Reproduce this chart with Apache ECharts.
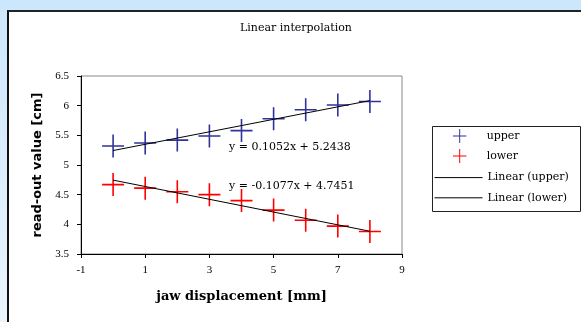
<!DOCTYPE html>
<html>
<head>
<meta charset="utf-8">
<script src="https://cdn.jsdelivr.net/npm/echarts@6/dist/echarts.min.js"></script>
<style>
  html, body { margin: 0; padding: 0; }
  body {
    width: 581px; height: 322px; overflow: hidden; position: relative;
    background: linear-gradient(#cce7fc, #eaf4fd);
  }
  .panel {
    position: absolute; left: 7px; top: 10px; width: 600px; height: 340px;
    background: #fff; border-left: 2px solid #111; border-top: 2px solid #222;
  }
  #chart { position: absolute; left: 0; top: 0; width: 581px; height: 322px; }
</style>
</head>
<body>
<div class="panel"></div>
<div id="chart"></div>
<script>
const xValues = [0, 1, 2, 3, 4, 5, 6, 7, 8];
const upperValues = [5.32, 5.37, 5.42, 5.49, 5.58, 5.78, 5.93, 6.01, 6.07];
const lowerValues = [4.67, 4.61, 4.55, 4.50, 4.40, 4.24, 4.07, 3.97, 3.88];
// trend line end points (x = 0 and x = 8)
const upperTrend = [[0, 5.2438], [8, 6.0854]];
const lowerTrend = [[0, 4.7451], [8, 3.8835]];
const upperLabel = "y = 0.1052x + 5.2438";
const lowerLabel = "y = -0.1077x + 4.7451";

const serif = "Liberation Serif";
const wide = "DejaVu Serif";
const cross = "path://M0,10.7 L22,10.7 L22,12.3 L0,12.3 Z M10.2,0 L11.8,0 L11.8,23 L10.2,23 Z";

const chart = echarts.init(document.getElementById("chart"));
chart.setOption({
  animation: false,
  textStyle: { fontFamily: serif },
  grid: {
    left: 81, top: 76, right: 179, bottom: 68,
    show: true, borderColor: "#8a8a8a", borderWidth: 1
  },
  xAxis: {
    type: "value", min: -1, max: 9, interval: 2,
    name: "jaw displacement [mm]",
    nameLocation: "middle", nameGap: 36,
    nameTextStyle: { fontFamily: wide, fontWeight: "bold", fontSize: 13, color: "#000" },
    axisLine: { onZero: false, lineStyle: { color: "#000" } },
    axisTick: { lineStyle: { color: "#000" }, length: 4 },
    axisLabel: { color: "#000", fontSize: 11, fontFamily: serif, margin: 11 },
    splitLine: { show: false }
  },
  yAxis: {
    type: "value", min: 3.5, max: 6.5, interval: 0.5,
    name: "read-out value [cm]",
    nameLocation: "middle", nameGap: 36,
    nameTextStyle: { fontFamily: "DejaVu Sans", fontWeight: "bold", fontSize: 13, color: "#000" },
    axisLine: { show: true, onZero: false, lineStyle: { color: "#000" } },
    axisTick: { show: true, lineStyle: { color: "#000" }, length: 4 },
    axisLabel: { color: "#000", fontSize: 11, fontFamily: serif, margin: 12 },
    splitLine: { show: false }
  },
  legend: [
    {
      orient: "vertical", left: 453, top: 129, padding: 0,
      itemWidth: 14, itemHeight: 14, itemGap: 6,
      data: [{ name: "upper", icon: cross }, { name: "lower", icon: cross }],
      textStyle: { fontFamily: wide, fontSize: 11, color: "#000", padding: [0, 0, 0, 15] }
    },
    {
      orient: "vertical", left: 434, top: 172, padding: 0,
      itemWidth: 48, itemHeight: 14, itemGap: 9,
      data: ["Linear (upper)", "Linear (lower)"],
      itemStyle: { opacity: 0 },
      lineStyle: { width: 1, color: "#000" },
      textStyle: { fontFamily: wide, fontSize: 11, color: "#000" }
    }
  ],
  graphic: [
    { type: "rect", left: 430, top: 124, shape: { width: 148, height: 85 },
      style: { fill: "none", stroke: "#222", lineWidth: 1 } },
    { type: "text", x: 296, y: 28,
      style: { text: "Linear interpolation", font: "11px '" + wide + "'", fill: "#000",
        align: "center", verticalAlign: "middle" } },
    { type: "text", x: 229, y: 147,
      style: { text: upperLabel, font: "11px '" + wide + "'", fill: "#000", verticalAlign: "middle" } },
    { type: "text", x: 229, y: 186,
      style: { text: lowerLabel, font: "11px '" + wide + "'", fill: "#000", verticalAlign: "middle" } }
  ],
  series: [
    {
      name: "upper", type: "scatter", symbol: cross, symbolSize: [22, 23],
      itemStyle: { color: "#30339a", opacity: 1 },
      data: xValues.map((x, i) => [x, upperValues[i]]), z: 3
    },
    {
      name: "lower", type: "scatter", symbol: cross, symbolSize: [22, 23],
      itemStyle: { color: "#ff0000", opacity: 1 },
      data: xValues.map((x, i) => [x, lowerValues[i]]), z: 3
    },
    {
      name: "Linear (upper)", type: "line", symbol: "none",
      lineStyle: { color: "#000", width: 1 }, itemStyle: { color: "#000" },
      data: upperTrend, z: 4
    },
    {
      name: "Linear (lower)", type: "line", symbol: "none",
      lineStyle: { color: "#000", width: 1 }, itemStyle: { color: "#000" },
      data: lowerTrend, z: 4
    }
  ]
});
</script>
</body>
</html>
